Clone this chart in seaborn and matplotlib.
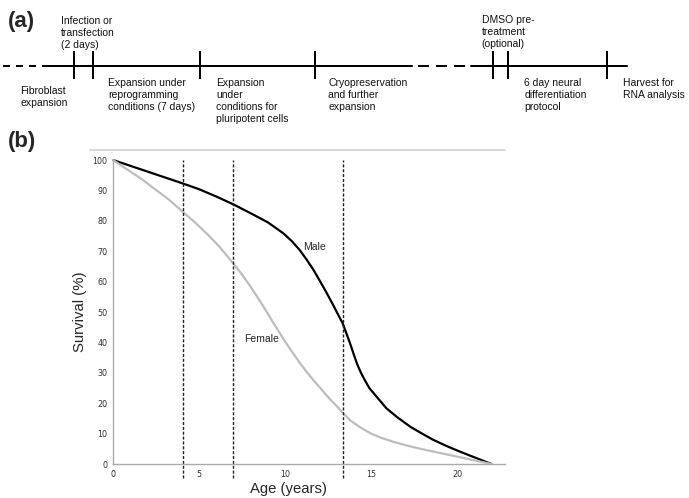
import numpy as np
import pandas as pd
import seaborn as sns
import matplotlib
matplotlib.use("Agg")
import matplotlib.pyplot as plt
from matplotlib.lines import Line2D

# ---------------- data ----------------
male_age = [0, 1, 2, 3, 4.05, 5, 6, 7, 8, 9, 9.9, 10.4, 10.85, 11.25, 11.65, 12.0,
            12.42, 12.8, 13.1, 13.35, 13.6, 13.8, 14.0, 14.2, 14.4, 14.6, 14.9, 15.3,
            15.9, 16.5, 17.3, 18.0, 18.6, 19.4, 20.2, 21.1, 22]
male_surv = [100, 98.1, 96.2, 94.3, 92.3, 90.4, 88.0, 85.4, 82.5, 79.5, 75.9, 73.3,
             70.4, 67.3, 63.9, 60.5, 56.3, 52.3, 49.0, 46.3, 42.5, 39.4, 36.0, 32.8,
             30.2, 28.0, 25.0, 22.3, 18.3, 15.5, 12.2, 9.9, 8.0, 5.9, 4.0, 2.0, 0]
female_age = [0, 0.5, 1, 1.7, 2.34, 3.2, 4.05, 4.8, 5.54, 6.2, 6.8, 7.4, 7.97, 8.5,
              8.94, 9.4, 9.9, 10.3, 10.87, 11.3, 11.65, 12.03, 12.6, 13.1, 13.35, 13.8,
              14.36, 15.0, 15.6, 16.3, 17.2, 18.2, 19.2, 20.2, 21.1, 22]
female_surv = [100, 98.1, 96.2, 93.6, 90.8, 87.2, 83.0, 79.3, 75.3, 71.4, 67.3, 63.1,
               58.6, 54.0, 50.0, 45.7, 41.2, 37.8, 33.2, 30.0, 27.6, 25.1, 21.4, 18.5,
               16.9, 14.3, 12.1, 10.0, 8.6, 7.3, 5.9, 4.6, 3.4, 2.2, 1.1, 0]
milestones = [4.05, 7.0, 13.35]          # dashed vertical lines (years)
x_ticks = [0, 5, 10, 15, 20]
y_ticks = list(range(0, 101, 10))
curve_labels = ["Male", "Female"]

# timeline (panel a) texts
timeline_texts = [
    "Infection or\ntransfection\n(2 days)",
    "Fibroblast\nexpansion",
    "Expansion under\nreprogramming\nconditions (7 days)",
    "Expansion\nunder\nconditions for\npluripotent cells",
    "Cryopreservation\nand further\nexpansion",
    "DMSO pre-\ntreatment\n(optional)",
    "6 day neural\ndifferentiation\nprotocol",
    "Harvest for\nRNA analysis",
]

df = pd.DataFrame({
    "age": male_age + female_age,
    "survival": male_surv + female_surv,
    "sex": ["Male"] * len(male_age) + ["Female"] * len(female_age),
})

# ---------------- figure ----------------
sns.set_theme(style="white")
plt.rcParams["font.family"] = ["Liberation Sans", "DejaVu Sans"]
plt.rcParams["lines.scale_dashes"] = False

W, H = 689, 498
fig = plt.figure(figsize=(W / 100, H / 100), dpi=100)
fig.patch.set_facecolor("white")

def fx(x):
    return x / W

def fy(y):
    return 1 - y / H

# overlay axes for panel (a) in pixel coords
ov = fig.add_axes([0, 0, 1, 1])
ov.set_xlim(0, W)
ov.set_ylim(H, 0)
ov.axis("off")
ov.patch.set_alpha(0)

ly = 65.7
pt = 0.72
ov.plot([3, 45], [ly, ly], color="black", lw=2 * pt, dashes=(7 * pt, 6 * pt), solid_capstyle="butt")
ov.plot([45, 412], [ly, ly], color="black", lw=2 * pt)
ov.plot([418, 472], [ly, ly], color="black", lw=2 * pt, dashes=(11 * pt, 7 * pt))
ov.plot([471, 627], [ly, ly], color="black", lw=2 * pt)
for tx in [74, 92.7, 200, 315, 492.7, 507.7, 606.7]:
    ov.plot([tx, tx], [51, 79], color="black", lw=2 * pt, solid_capstyle="butt")

text_pos = [(61, 15.5), (20.5, 85.5), (108.5, 77.5), (216, 77.5), (328.3, 77.5),
            (481.7, 14.5), (524.3, 77.5), (622.7, 77.5)]
for (tx, ty), s in zip(text_pos, timeline_texts):
    ov.text(tx, ty, s, fontsize=7.5, ha="left", va="top", linespacing=1.25,
            color="#111111")

ov.text(8, 27, "(a)", fontsize=16, fontweight="bold", ha="left", va="baseline")
ov.text(8, 147, "(b)", fontsize=16, fontweight="bold", ha="left", va="baseline")

# separator line above panel b
fig.add_artist(Line2D([fx(90), fx(505)], [fy(150), fy(150)], color="#d4d4d4", lw=1.3))

# ---------------- panel (b) ----------------
x0, x1 = 113, 113 + 22.8 * 17.2
y0, y1 = 464, 160
ax = fig.add_axes([fx(x0), fy(y0), fx(x1) - fx(x0), (y0 - y1) / H])
ax.patch.set_alpha(0)

sns.lineplot(data=df, x="age", y="survival", hue="sex",
             palette={"Male": "black", "Female": "#bdbdbd"},
             linewidth=1.6, legend=False, ax=ax, clip_on=False)

for m in milestones:
    ax.axvline(m, ymin=-0.046, ymax=1.0, color="#222222", lw=1.0,
               dashes=(2.2, 1.3), clip_on=False)

ax.set_xlim(0, 22.8)
ax.set_ylim(0, 100)
ax.set_xticks(x_ticks)
ax.set_yticks(y_ticks)
ax.tick_params(axis="both", labelsize=5.8, labelcolor="#333333", colors="#aaaaaa",
               length=2.5, width=0.8)
ax.tick_params(axis="x", pad=4, length=0)
ax.tick_params(axis="y", pad=1.5)
for lab in ax.get_xticklabels() + ax.get_yticklabels():
    lab.set_family("DejaVu Sans")
    lab.set_color("#333333")

for s in ["top", "right"]:
    ax.spines[s].set_visible(False)
for s in ["left", "bottom"]:
    ax.spines[s].set_color("#aaaaaa")
    ax.spines[s].set_linewidth(1.0)

ax.set_xlabel("Age (years)", fontsize=10.7)
ax.set_ylabel("Survival (%)", fontsize=10.7)
ax.xaxis.set_label_coords((288 - x0) / (x1 - x0), (y0 - 489) / (y0 - y1))
ax.xaxis.label.set_verticalalignment("center")
ax.yaxis.set_label_coords((80 - x0) / (x1 - x0), 0.5)
ax.yaxis.label.set_verticalalignment("center")

ax.text(11.74, 71.4, curve_labels[0], fontsize=7.5, ha="center", va="center")
ax.text(8.64, 41.0, curve_labels[1], fontsize=7.5, ha="center", va="center")

fig.savefig("out.png", dpi=100, facecolor="white")
